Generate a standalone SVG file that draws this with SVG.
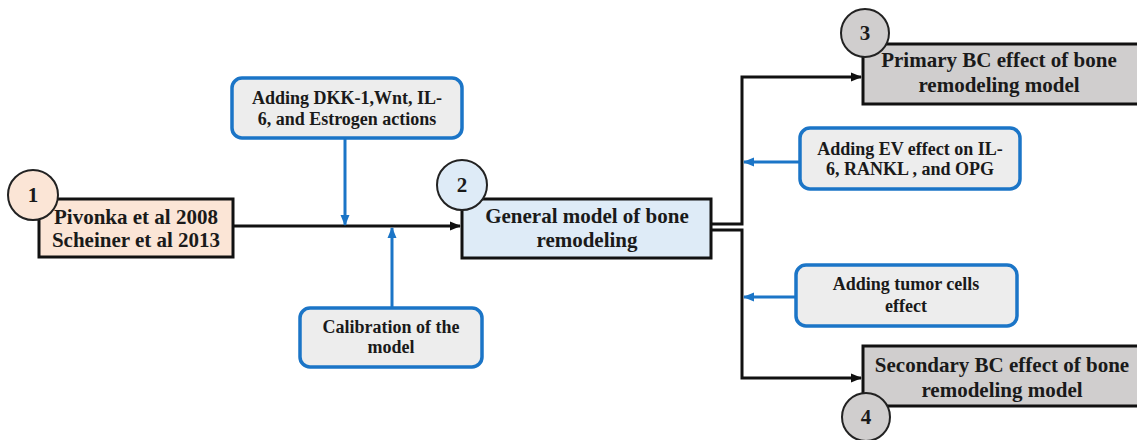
<svg xmlns="http://www.w3.org/2000/svg" width="1137" height="440" viewBox="0 0 1137 440">
<defs>
<style>
text{font-family:"Liberation Serif","Times New Roman",serif;font-weight:bold;fill:#1a1a1a;text-anchor:middle}
.main{font-size:21px}
.call{font-size:18px}
.num{font-size:21px}
.box{stroke:#111;stroke-width:3}
.callout{fill:#ededed;stroke:#1b75c7;stroke-width:3.5}
.circ{stroke:#222;stroke-width:2}
.blk{fill:none;stroke:#111;stroke-width:3}
.blu{fill:none;stroke:#1b75c7;stroke-width:3}
</style>
<marker id="ab" markerUnits="userSpaceOnUse" markerWidth="11" markerHeight="11" viewBox="0 0 11 11" refX="10" refY="5.5" orient="auto"><path d="M0,1 L11,5.5 L0,10 Z" fill="#111"/></marker>
<marker id="au" markerUnits="userSpaceOnUse" markerWidth="11" markerHeight="11" viewBox="0 0 11 11" refX="10" refY="5.5" orient="auto"><path d="M0,1 L11,5.5 L0,10 Z" fill="#1b75c7"/></marker>
</defs>
<rect width="1137" height="440" fill="#fff"/>
<g id="connectors">
<path class="blk" d="M233,226 H460" marker-end="url(#ab)"/>
<path class="blk" d="M711,224 H742 V77 H861" marker-end="url(#ab)"/>
<path class="blk" d="M711,230 H742 V378 H861" marker-end="url(#ab)"/>
<path class="blu" d="M345,138 V225" marker-end="url(#au)"/>
<path class="blu" d="M392,308 V228" marker-end="url(#au)"/>
<path class="blu" d="M800,162 H744" marker-end="url(#au)"/>
<path class="blu" d="M796,297 H744" marker-end="url(#au)"/>
</g>
<g id="node1">
<rect class="box" x="39" y="199" width="194" height="58" fill="#fbe5d6"/>
<circle class="circ" cx="33" cy="195" r="25" fill="#fbe5d6"/>
<text class="num" x="33" y="202">1</text>
<text class="main" x="136" y="224">Pivonka et al 2008</text>
<text class="main" x="136" y="247">Scheiner et al 2013</text>
</g>
<g id="node2">
<rect class="box" x="462" y="199" width="249" height="59" fill="#deebf7"/>
<circle class="circ" cx="462" cy="185" r="25" fill="#deebf7"/>
<text class="num" x="462" y="192">2</text>
<text class="main" x="587" y="223">General model of bone</text>
<text class="main" x="587" y="247">remodeling</text>
</g>
<g id="node3">
<rect class="box" x="863" y="44" width="280" height="60" fill="#d0cece"/>
<circle class="circ" cx="865" cy="33" r="24" fill="#d0cece"/>
<text class="num" x="865" y="40">3</text>
<text class="main" x="999" y="67">Primary BC effect of bone</text>
<text class="main" x="999" y="92">remodeling model</text>
</g>
<g id="node4">
<rect class="box" x="863" y="346" width="280" height="60" fill="#d0cece"/>
<circle class="circ" cx="866" cy="417" r="24" fill="#d0cece"/>
<text class="num" x="866" y="424">4</text>
<text class="main" x="1002" y="372">Secondary BC effect of bone</text>
<text class="main" x="1002" y="397">remodeling model</text>
</g>
<g id="dkk">
<rect class="callout" x="232" y="78" width="230" height="60" rx="10"/>
<text class="call" x="347" y="104">Adding DKK-1,Wnt, IL-</text>
<text class="call" x="347" y="125">6, and Estrogen actions</text>
</g>
<g id="calibration">
<rect class="callout" x="300" y="308" width="182" height="59" rx="10"/>
<text class="call" x="391" y="333">Calibration of the</text>
<text class="call" x="391" y="353">model</text>
</g>
<g id="ev">
<rect class="callout" x="800" y="128" width="220" height="61" rx="10"/>
<text class="call" x="910" y="155">Adding EV effect on IL-</text>
<text class="call" x="910" y="175">6, RANKL , and OPG</text>
</g>
<g id="tumor">
<rect class="callout" x="796" y="265" width="221" height="61" rx="10"/>
<text class="call" x="906" y="290">Adding tumor cells</text>
<text class="call" x="906" y="312">effect</text>
</g>
</svg>
